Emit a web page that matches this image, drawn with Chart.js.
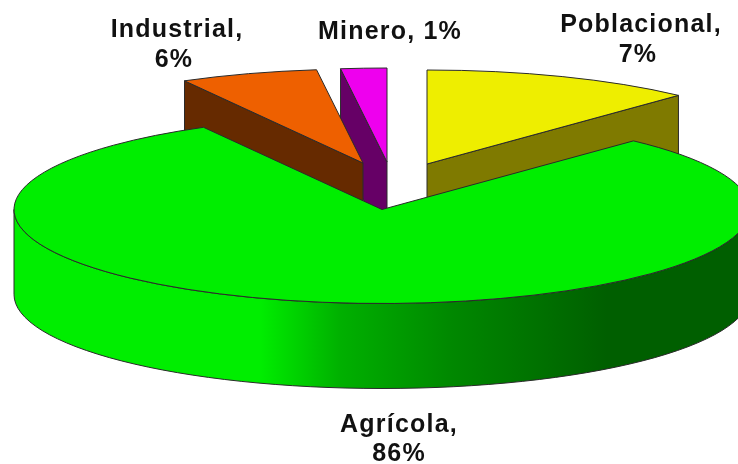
<!DOCTYPE html>
<html>
<head>
<meta charset="utf-8">
<style>
html,body{margin:0;padding:0;background:#fff}
canvas{display:block;filter:blur(0.4px)}
</style>
<script src="https://cdn.jsdelivr.net/npm/chart.js@4"></script>
</head>
<body>
<canvas id="c" width="738" height="464"></canvas>
<script>
const categories = ['Poblacional', 'Agrícola', 'Industrial', 'Minero'];
const values = [7, 86, 6, 1];
const topColors = ['#EEEE00', '#00EE00', '#EE6000', '#EE00EE'];
const sideColors = ['#7F7A00', null, '#662A00', '#660066'];
const drawOrder = [0, 3, 2, 1];

// Exploded-slice centres on the page, and the shared tilt of the pie
const sliceCentres = [[427, 164], [382, 209.5], [363, 163], [387, 162]];
const RX = 368, RY = 94, DEPTH = 85;

// Where each label's two lines sit
const labelLines = [
  [[641, 25, 0], [638, 55, 1]],
  [[399, 425, 0], [399, 454, 1]],
  [[177, 30, 0], [174, 60, 1]],
  null
];
const singleLine = [[390, 32]];

const deg = Math.PI / 180;

// The tilted 3-D view stretches slice angles near the back of the pie
function tiltAngle(canvasRad) {
  let t = canvasRad / deg + 90;
  while (t > 180) t -= 360;
  while (t <= -180) t += 360;
  const f = t + 11 * Math.tanh(t / 10) + 74 * (1 - Math.cos(t * deg));
  return (f - 90) * deg;
}

const pie3d = {
  id: 'pie3d',
  afterDatasetsUpdate(chart) {
    chart.getDatasetMeta(0).data.forEach((el, i) => {
      const a = tiltAngle(el.startAngle);
      let b = tiltAngle(el.endAngle);
      if (b <= a) b += 2 * Math.PI;
      el.startAngle = a;
      el.endAngle = b;
      el.circumference = b - a;
      el.x = sliceCentres[i][0];
      el.y = sliceCentres[i][1];
      el.outerRadius = RX;
      el.innerRadius = 0;
    });
  },
  beforeDatasetsDraw(chart) {
    const ctx = chart.ctx;
    const arcs = chart.getDatasetMeta(0).data;
    const grad = ctx.createLinearGradient(15, 0, 755, 0);
    grad.addColorStop(0, '#00EE00');
    grad.addColorStop(0.33, '#00EE00');
    grad.addColorStop(0.44, '#00B000');
    grad.addColorStop(0.59, '#008800');
    grad.addColorStop(0.80, '#005F00');
    grad.addColorStop(1, '#005F00');
    const edge = '#2a2a2a';

    drawOrder.forEach(i => {
      const el = arcs[i];
      const cx = el.x, cy = el.y, a = el.startAngle, b = el.endAngle;
      const side = sideColors[i] || grad;
      ctx.save();
      ctx.lineWidth = 1;
      ctx.strokeStyle = edge;
      ctx.fillStyle = side;
      ctx.lineJoin = 'round';

      // cut faces that look towards the viewer
      const face = ang => {
        const px = cx + RX * Math.cos(ang), py = cy + RY * Math.sin(ang);
        ctx.beginPath();
        ctx.moveTo(cx, cy);
        ctx.lineTo(px, py);
        ctx.lineTo(px, py + DEPTH);
        ctx.lineTo(cx, cy + DEPTH);
        ctx.closePath();
        ctx.fill();
        ctx.stroke();
      };
      if (Math.cos(a) < -1e-6) face(a);
      if (Math.cos(b) > 1e-6) face(b);

      // outer rim on the front half
      const w0 = Math.max(a, 0), w1 = Math.min(b, Math.PI);
      if (w1 > w0) {
        ctx.beginPath();
        ctx.ellipse(cx, cy, RX, RY, 0, w0, w1);
        ctx.ellipse(cx, cy + DEPTH, RX, RY, 0, w1, w0, true);
        ctx.closePath();
        ctx.fill();
        ctx.stroke();
      }

      // the library's arc, squashed into the tilted plane
      ctx.save();
      ctx.translate(cx, cy);
      ctx.scale(1, RY / RX);
      ctx.translate(-cx, -cy);
      el.draw(ctx);
      ctx.restore();

      ctx.beginPath();
      ctx.moveTo(cx, cy);
      ctx.ellipse(cx, cy, RX, RY, 0, a, b);
      ctx.closePath();
      ctx.stroke();
      ctx.restore();
    });
    return false;
  },
  afterDraw(chart) {
    const ctx = chart.ctx;
    ctx.save();
    ctx.fillStyle = '#111';
    ctx.font = 'bold 25px "Liberation Sans", Arial, sans-serif';
    ctx.letterSpacing = '1.2px';
    ctx.textAlign = 'center';
    ctx.textBaseline = 'middle';
    categories.forEach((name, i) => {
      const first = name + ',', second = values[i] + '%';
      if (labelLines[i]) {
        ctx.fillText(first, labelLines[i][0][0], labelLines[i][0][1]);
        ctx.fillText(second, labelLines[i][1][0], labelLines[i][1][1]);
      } else {
        ctx.fillText(first + ' ' + second, singleLine[0][0], singleLine[0][1]);
      }
    });
    ctx.restore();
  }
};

new Chart(document.getElementById('c'), {
  type: 'pie',
  data: {
    labels: categories,
    datasets: [{ data: values, backgroundColor: topColors, borderWidth: 0 }]
  },
  options: {
    responsive: false,
    animation: false,
    events: [],
    plugins: { legend: { display: false }, tooltip: { enabled: false } }
  },
  plugins: [pie3d]
});
</script>
</body>
</html>
